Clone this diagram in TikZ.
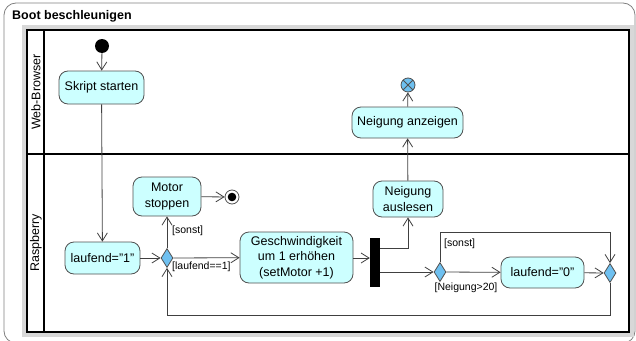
\documentclass[tikz,border=0pt]{standalone}
\usepackage{fontspec}
\setmainfont{Liberation Sans}[Ligatures=NoCommon]
\usetikzlibrary{shapes.geometric,arrows.meta}
\definecolor{actfill}{HTML}{CCFFFF}
\definecolor{decfill}{HTML}{6EC0F0}
\definecolor{edgec}{HTML}{404040}
\definecolor{bordc}{HTML}{505050}
\definecolor{shadowc}{HTML}{D8D8D8}
\tikzset{
  actbox/.style={draw=bordc, fill=actfill, rounded corners=9pt, line width=0.8pt, inner sep=0pt, align=center, font=\fontsize{12.5}{15.5}\selectfont},
  decnode/.style={diamond, draw=bordc, fill=decfill, line width=0.8pt, inner sep=0pt, minimum width=12pt, minimum height=19pt, shape aspect=0.63},
  flow/.style={draw=edgec, line width=0.8pt, -{Straight Barb[length=8pt,width=10pt]}},
  guard/.style={font=\fontsize{10.5}{12}\selectfont, inner sep=0pt},
  lanelabel/.style={rotate=90, font=\fontsize{12.5}{15}\selectfont, inner sep=0pt},
}
\begin{document}
\begin{tikzpicture}[x=1pt,y=-1pt]
\useasboundingbox (0,0) rectangle (636,340);
% outer frame
\draw[draw=gray, line width=0.8pt, rounded corners=12pt] (4,3) rectangle (635,343);
\node[anchor=west, font=\bfseries\fontsize{12.5}{15}\selectfont, inner sep=0pt] (title) at (12,16) {Boot beschleunigen};
% pool
\draw[shadowc, line width=5pt] (24.5,27.5) rectangle (631,334.5);
\draw[black, line width=1.6pt] (27,30) rectangle (629,332);
\draw[black, line width=1.6pt] (44,30) -- (44,332);
\draw[black, line width=1.6pt] (27,154) -- (629,154);
\node[lanelabel] (lane1) at (36,92) {Web-Browser};
\node[lanelabel] (lane2) at (36,243) {Raspberry};
% nodes
\node[circle, fill=black, minimum size=14pt, inner sep=0pt] (init) at (102,46) {};
\node[actbox, minimum width=85pt, minimum height=33pt] (skript) at (101.5,87.5) {Skript starten};
\node[actbox, minimum width=75pt, minimum height=32pt] (lauf1) at (102.5,258) {laufend=\char34 1\char34};
\node[decnode] (d1) at (167,258) {};
\node[actbox, minimum width=68pt, minimum height=39pt] (motor) at (167,196.5) {Motor\\stoppen};
\node[circle, draw=bordc, fill=white, line width=0.8pt, minimum size=14pt, inner sep=0pt,
  path picture={\fill[black] (path picture bounding box.center) circle (4.3pt);}] (final) at (232,197) {};
\node[actbox, minimum width=113pt, minimum height=51pt] (gesch) at (296.5,257.5) {Geschwindigkeit\\um 1 erhöhen\\(setMotor +1)};
\node[fill=black, minimum width=10pt, minimum height=49pt, inner sep=0pt] (fork) at (375,262.5) {};
\node[actbox, minimum width=70pt, minimum height=36pt] (ausl) at (408,199) {Neigung\\auslesen};
\node[actbox, minimum width=111pt, minimum height=31pt] (anz) at (407.5,122.5) {Neigung anzeigen};
\node[circle, draw=bordc, fill=decfill, line width=0.8pt, minimum size=14pt, inner sep=0pt,
  path picture={\draw[bordc, line width=0.8pt] (path picture bounding box.south west) -- (path picture bounding box.north east) (path picture bounding box.north west) -- (path picture bounding box.south east);}] (ffinal) at (408,85) {};
\node[decnode] (d2) at (440,272) {};
\node[actbox, minimum width=83pt, minimum height=31pt] (lauf0) at (542.5,272.5) {laufend=\char34 0\char34};
\node[decnode] (d3) at (610,273) {};
% corner coordinates
\coordinate (c8) at (ausl.south |- 0,248);
\coordinate (c12a) at (440,232);
\coordinate (c12b) at (610,232);
\coordinate (c13a) at (610,315);
\coordinate (c13b) at (167,315);
% connectors
\draw[flow] (init) -- (skript);
\draw[flow] (skript) -- (lauf1);
\draw[flow] (lauf1) -- (d1);
\draw[flow] (d1) -- (motor);
\node[guard, anchor=west] (g1) at (172,231) {[sonst]};
\draw[flow] (motor) -- (final);
\draw[flow] (d1) -- (gesch);
\node[guard, anchor=west] (g2) at (172,267) {[laufend==1]};
\draw[flow] (gesch.east |- 0,258) -- (fork.west |- 0,258);
\draw[flow] (fork.east |- 0,248) -- (c8) -- (ausl.south);
\draw[flow] (fork.east |- 0,272) -- (d2);
\draw[flow] (d2) -- (lauf0);
\draw[flow] (lauf0) -- (d3);
\draw[flow] (d2.north) -- (c12a) -- (c12b) -- (d3.north);
\node[guard, anchor=west] (g3) at (444,244) {[sonst]};
\node[guard] (g4) at (466,288) {[Neigung>20]};
\draw[flow] (d3.south) -- (c13a) -- (c13b) -- (d1.south);
\draw[flow] (ausl) -- (anz);
\draw[flow] (anz) -- (ffinal);
\end{tikzpicture}
\end{document}
